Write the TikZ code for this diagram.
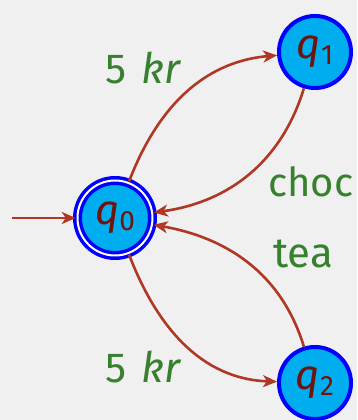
\documentclass[tikz,border=0pt]{standalone}
\usepackage{fontspec}
\setmainfont[Numbers=Lining]{Fira Sans}
\usetikzlibrary{arrows.meta}
\definecolor{bgcol}{RGB}{240,240,240}
\definecolor{statefill}{RGB}{0,174,239}
\definecolor{stateline}{RGB}{0,0,255}
\definecolor{statetext}{RGB}{110,20,10}
\definecolor{edgecol}{RGB}{175,55,35}
\definecolor{labelcol}{RGB}{55,128,45}
\begin{document}
\begin{tikzpicture}[x=1pt,y=1pt,
  base/.style={circle, fill=statefill, text=statetext, inner sep=0pt,
    font=\fontsize{42}{50}\selectfont},
  state/.style={base, draw=stateline, line width=4pt, minimum size=72pt},
  accept/.style={base, draw=stateline, line width=3.5pt, double=white,
    double distance=2pt, minimum size=75pt},
  edge/.style={draw=edgecol, line width=2.6pt,
    -{Stealth[length=14pt,width=12pt,inset=4pt]}},
  lbl/.style={text=labelcol, anchor=base west, inner sep=0pt,
    font=\fontsize{42}{50}\selectfont}]
\fill[bgcol] (0,0) rectangle (357,420);
\useasboundingbox (0,0) rectangle (357,420);
% states
\node[accept] (q0) at (115,202) {\textit{q}\raisebox{-6pt}{\fontsize{28}{28}\selectfont 0}};
\node[state]  (q1) at (315,368) {\textit{q}\raisebox{-6pt}{\fontsize{28}{28}\selectfont 1}};
\node[state]  (q2) at (315,37)  {\textit{q}\raisebox{-6pt}{\fontsize{28}{28}\selectfont 2}};
\coordinate (start) at (12,202);
% transitions
\draw[edge] (start) -- (q0);
\draw[edge] (q0) to[out=69,in=185] (q1);
\draw[edge] (q1) to[out=-107,in=8] (q0);
\draw[edge] (q2) to[out=107,in=-10] (q0);
\draw[edge] (q0) to[out=-69,in=178] (q2);
% labels
\node[lbl] (l01) at (105,336) {5\hspace{15pt}\textit{kr}};
\node[lbl, font=\fontsize{40}{48}\selectfont] (l10) at (268,223) {choc};
\node[lbl] (l20) at (273,152) {tea};
\node[lbl] (l02) at (105,37) {5\hspace{15pt}\textit{kr}};
\end{tikzpicture}
\end{document}
